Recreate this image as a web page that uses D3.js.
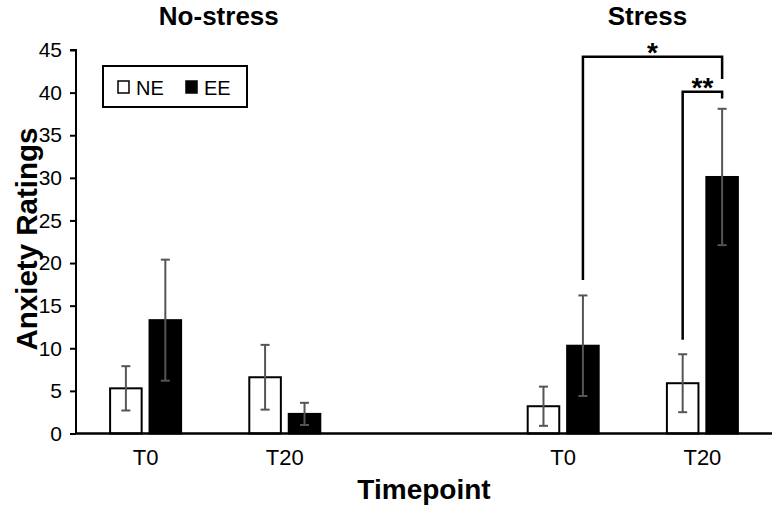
<!DOCTYPE html>
<html>
<head>
<meta charset="utf-8">
<script src="https://cdn.jsdelivr.net/npm/d3@7"></script>
<style>
html,body{margin:0;padding:0;background:#fff;}
svg{display:block;}
text{font-family:Arial,"Liberation Sans",sans-serif;fill:#000;}
</style>
</head>
<body>
<svg id="chart" width="776" height="511"></svg>
<script>
// ---- data ----
const groups = ["No-stress", "Stress"];
const timepoints = ["T0", "T20"];
const series = ["NE", "EE"];
const neMeans = [5.3, 6.6, 3.2, 5.9];
const neErrors = [2.6, 3.8, 2.3, 3.4];
const eeMeans = [13.3, 2.3, 10.3, 30.1];
const eeErrors = [7.1, 1.3, 5.9, 8.0];
const yTicks = [0, 5, 10, 15, 20, 25, 30, 35, 40, 45];
// significance brackets: from/to bars, top value, leg ends, label
const bracketFrom = ["Stress|T0", "Stress|T20"];
const bracketFromSeries = ["EE", "NE"];
const bracketTo = ["Stress|T20", "Stress|T20"];
const bracketToSeries = ["EE", "EE"];
const bracketTop = [44.2, 40.1];
const bracketLeftEnd = [18.0, 11.0];
const bracketRightEnd = [41.6, 39.3];
const bracketLabels = ["*", "**"];

// ---- build ----
const slots = ["No-stress|T0", "No-stress|T20", "gap", "Stress|T0", "Stress|T20"];
const rows = [];
let k = 0;
groups.forEach(g => timepoints.forEach(t => {
  rows.push({slot: g + "|" + t, tp: t, NE: neMeans[k], NEe: neErrors[k], EE: eeMeans[k], EEe: eeErrors[k]});
  k++;
}));

const svg = d3.select("#chart");
const mLeft = 76, mRight = 772, mTop = 50, mBottom = 433.5;

const x = d3.scaleBand().domain(slots).range([mLeft, mRight]);
const innerW = 71;
const x1 = d3.scaleBand().domain(series).range([0, innerW]).paddingInner(0.2);
const barX = (slot, s) => x(slot) + (x.bandwidth() - innerW) / 2 + x1(s);
const barC = (slot, s) => barX(slot, s) + x1.bandwidth() / 2;
const y = d3.scaleLinear().domain([0, 45]).range([mBottom, mTop]);

// y axis
const yAxis = d3.axisLeft(y).tickValues(yTicks).tickSize(6).tickPadding(8).tickFormat(d3.format("d"));
const ya = svg.append("g").attr("transform", `translate(${mLeft},0)`).call(yAxis);
ya.select(".domain").attr("stroke", "#000").attr("stroke-width", 2).attr("d", `M-6,${y(45)}H0V${mBottom}`);
ya.selectAll(".tick line").attr("stroke", "#000").attr("stroke-width", 2);
ya.selectAll(".tick text").style("font-size", "21px").style("font-family", "Arial, 'Liberation Sans', sans-serif").attr("fill", "#000");

// bars
const colors = {NE: "#fff", EE: "#000"};
series.forEach(s => {
  svg.append("g").selectAll("rect").data(rows).join("rect")
    .attr("x", d => barX(d.slot, s))
    .attr("y", d => y(d[s]))
    .attr("width", x1.bandwidth())
    .attr("height", d => y(0) - y(d[s]))
    .attr("fill", colors[s])
    .attr("stroke", "#000")
    .attr("stroke-width", 2);
});

// x axis baseline
svg.append("line").attr("x1", mLeft).attr("x2", mRight).attr("y1", mBottom).attr("y2", mBottom)
  .attr("stroke", "#000").attr("stroke-width", 2.5);

// error bars
series.forEach(s => {
  const g = svg.append("g").attr("stroke", "#555").attr("stroke-width", 2);
  rows.forEach(d => {
    const cx = barC(d.slot, s);
    const hi = y(d[s] + d[s + "e"]), lo = y(d[s] - d[s + "e"]);
    g.append("line").attr("x1", cx).attr("x2", cx).attr("y1", hi).attr("y2", lo);
    g.append("line").attr("x1", cx - 4.5).attr("x2", cx + 4.5).attr("y1", hi).attr("y2", hi);
    g.append("line").attr("x1", cx - 4.5).attr("x2", cx + 4.5).attr("y1", lo).attr("y2", lo);
  });
});

// x tick labels
svg.append("g").selectAll("text").data(rows).join("text")
  .attr("x", d => x(d.slot) + x.bandwidth() / 2)
  .attr("y", 465)
  .attr("text-anchor", "middle")
  .style("font-family", "'Liberation Sans Narrow', 'Arial Narrow', Arial, sans-serif")
  .style("font-size", "22px")
  .text(d => d.tp);

// group titles
const titleShift = [-66, -55];
groups.forEach((g, i) => {
  const cx = x(g + "|T20") + x.bandwidth() / 2 + titleShift[i];
  svg.append("text").attr("x", cx).attr("y", 25).attr("text-anchor", "middle")
    .style("font-size", "26px").style("font-weight", "bold").text(g);
});

// axis titles
svg.append("text").attr("x", (mLeft + mRight) / 2).attr("y", 499).attr("text-anchor", "middle")
  .style("font-size", "28px").style("font-weight", "bold").text("Timepoint");
svg.append("text").attr("transform", `translate(37,239) rotate(-90)`)
  .attr("text-anchor", "middle").style("font-size", "29.5px").style("font-weight", "bold").text("Anxiety Ratings");

// significance brackets
bracketLabels.forEach((lab, i) => {
  const x0 = barC(bracketFrom[i], bracketFromSeries[i]);
  const xr = barC(bracketTo[i], bracketToSeries[i]);
  svg.append("path")
    .attr("d", `M${x0},${y(bracketLeftEnd[i])}V${y(bracketTop[i])}H${xr}V${y(bracketRightEnd[i])}`)
    .attr("fill", "none").attr("stroke", "#000").attr("stroke-width", 2.5);
  svg.append("text").attr("x", (x0 + xr) / 2).attr("y", y(bracketTop[i]) + 5)
    .attr("text-anchor", "middle").style("font-size", "28px").style("font-weight", "bold").text(lab);
});

// legend
const lg = svg.append("g");
lg.append("rect").attr("x", 103).attr("y", 66).attr("width", 144).attr("height", 41)
  .attr("fill", "#fff").attr("stroke", "#000").attr("stroke-width", 2);
const legX = [118, 186];
series.forEach((s, i) => {
  lg.append("rect").attr("x", legX[i]).attr("y", 81).attr("width", 11).attr("height", 12)
    .attr("fill", colors[s]).attr("stroke", "#000").attr("stroke-width", 1.5);
  lg.append("text").attr("x", legX[i] + 18).attr("y", 94.5).style("font-size", "20px").text(s);
});
</script>
</body>
</html>
